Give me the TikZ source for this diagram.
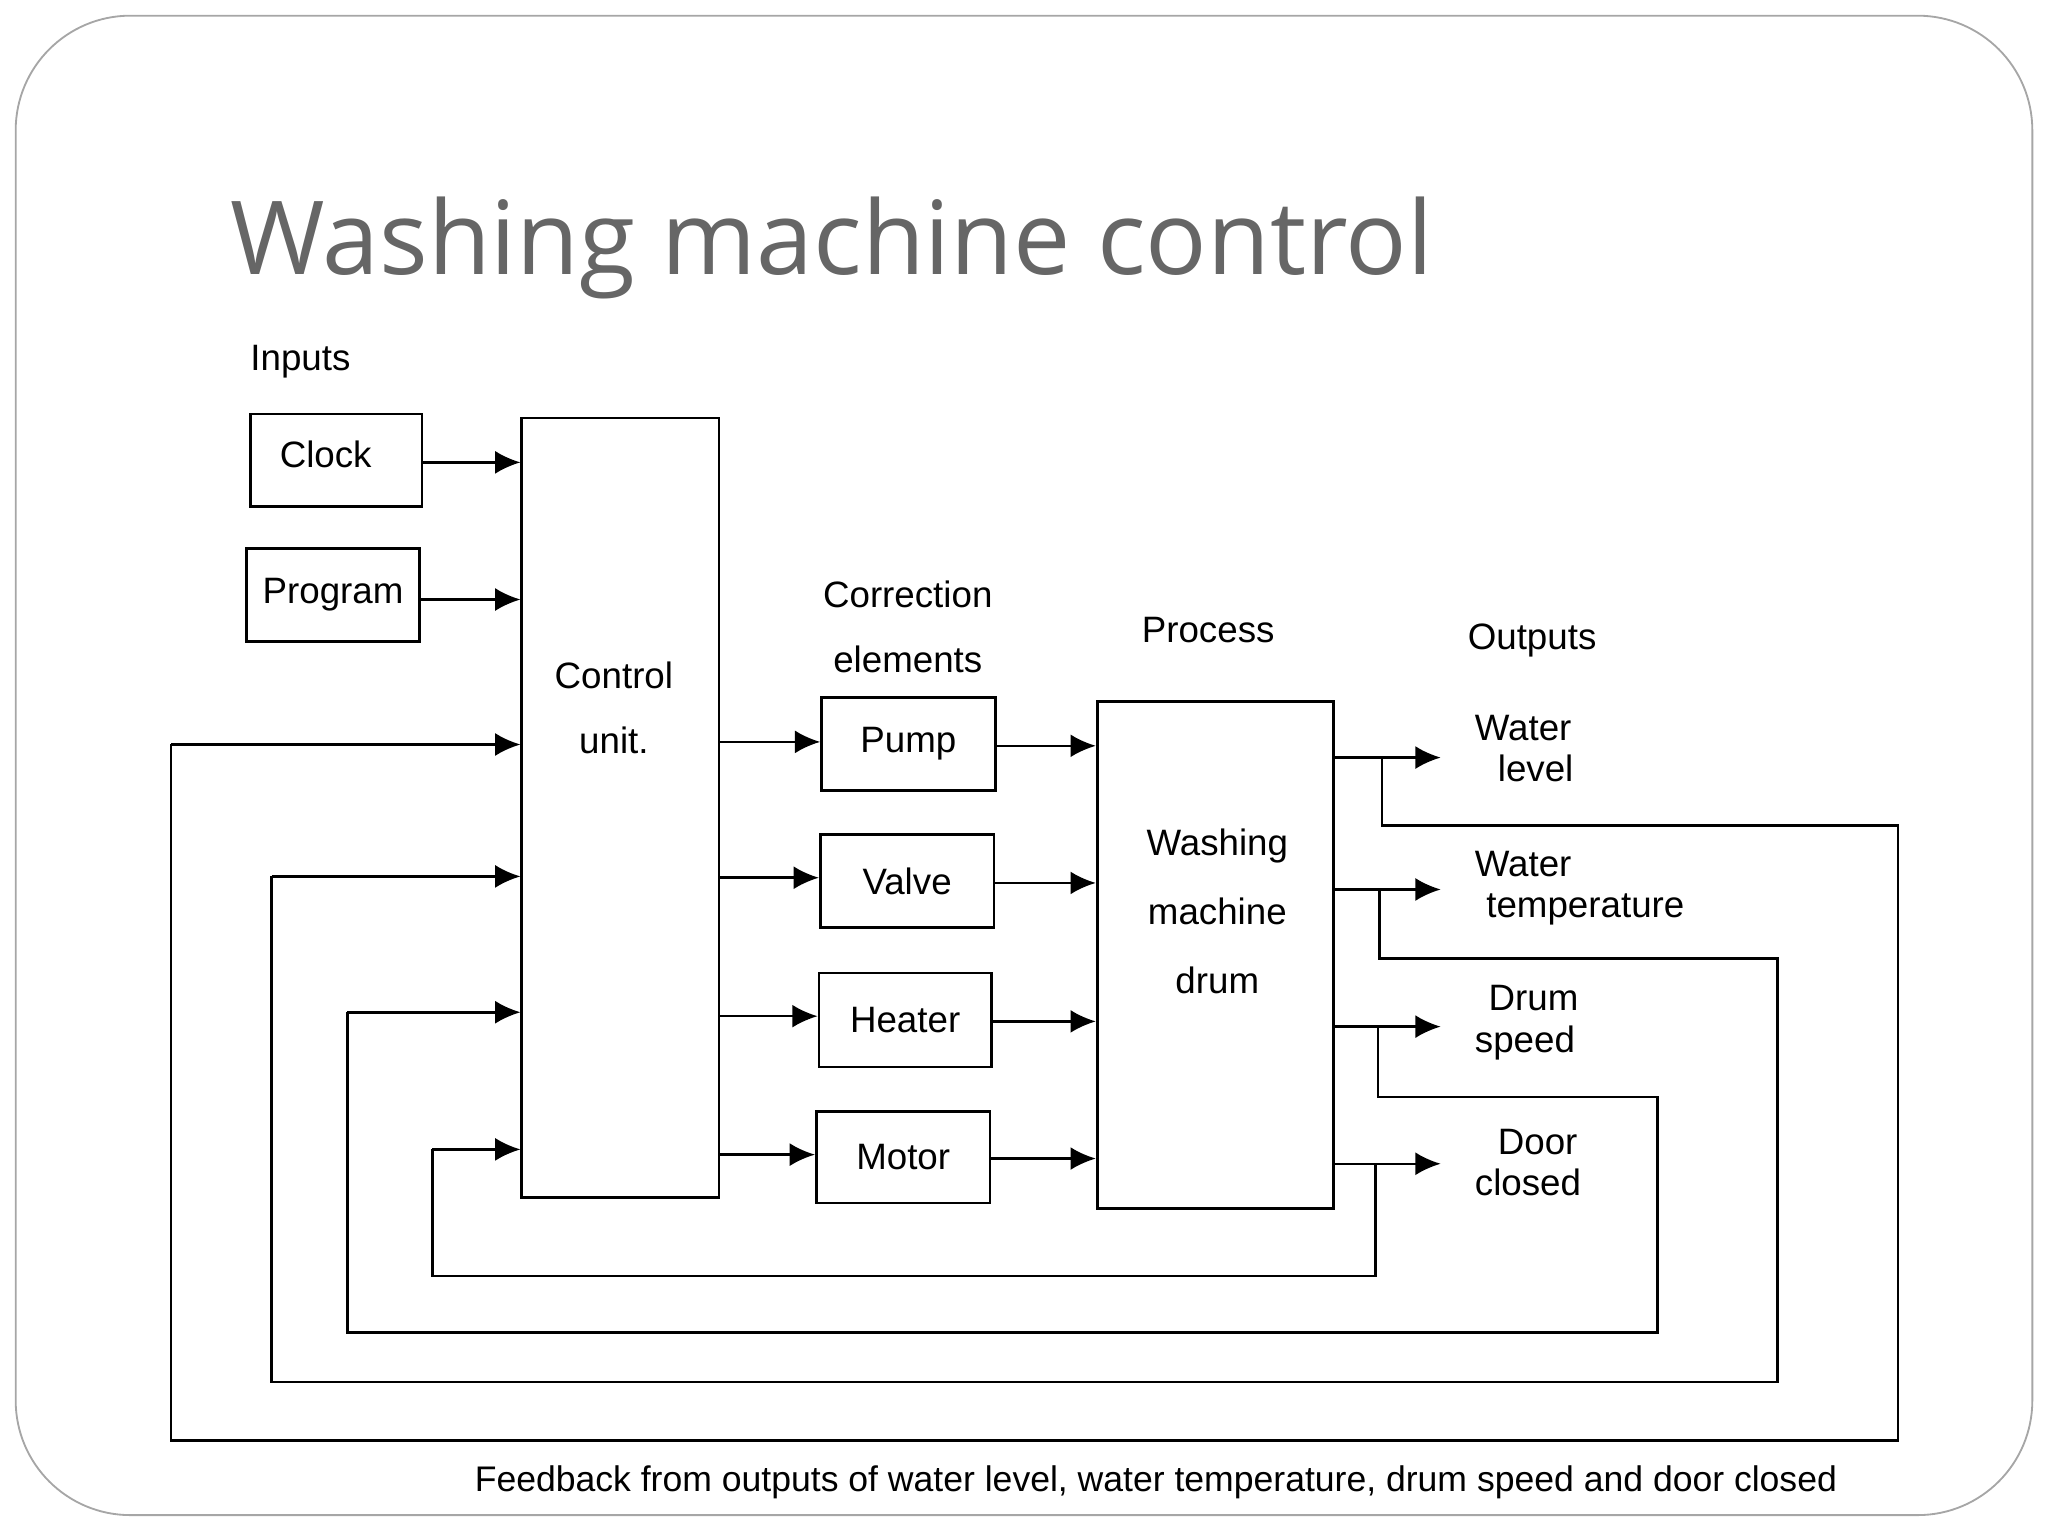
\documentclass[tikz,border=0pt]{standalone}
\usepackage{fontspec}
\setmainfont{Liberation Sans}
\newfontfamily\titlefont{Open Sans}
\usetikzlibrary{arrows.meta}
\begin{document}
\begin{tikzpicture}[x=0.02cm,y=-0.02cm,
  box/.style={draw,line width=1.2pt,inner sep=0pt,font=\fontsize{16}{24}\selectfont},
  lab/.style={font=\fontsize{16}{24}\selectfont,align=center},
  olab/.style={font=\fontsize{16}{18}\selectfont,align=left,anchor=west},
  ln/.style={line width=1.1pt},
  arr/.style={ln,-{Latex[length=11pt,width=10pt]}}]
\useasboundingbox (0,0) rectangle (1568,1176);
\draw[gray!70,line width=0.8pt,rounded corners=50] (12,12) rectangle (1556,1160);
\node[anchor=base west,text=black!60,font=\titlefont\fontsize{44.5}{52}\selectfont] (title) at (170,210) {Washing machine control};
\node[lab] (inputs) at (230,277) {Inputs};
\node[box,minimum width=131*0.02cm,minimum height=71*0.02cm] (clock) at (257.5,352.5) {};
\node[lab,anchor=west] at (208,348) {Clock};
\node[box,minimum width=132*0.02cm,minimum height=71*0.02cm] (program) at (255,455.5) {Program};
\node[box,minimum width=151*0.02cm,minimum height=597*0.02cm] (ctrl) at (475,618.5) {};
\node[lab] at (470,542) {Control\\[4pt]unit.};
\node[lab] (corr) at (695,480) {Correction\\[4pt]elements};
\node[lab] (process) at (925,482) {Process};
\node[lab] (outputs) at (1173,490) {Outputs};
\node[box,minimum width=133*0.02cm,minimum height=71*0.02cm] (pump) at (695.5,569.5) {Pump};
\node[box,minimum width=133*0.02cm,minimum height=71*0.02cm] (valve) at (694.5,674.5) {Valve};
\node[box,minimum width=132*0.02cm,minimum height=72*0.02cm] (heater) at (693,781) {Heater};
\node[box,minimum width=133*0.02cm,minimum height=70*0.02cm] (motor) at (691.5,886) {Motor};
\node[box,minimum width=181*0.02cm,minimum height=388*0.02cm] (drum) at (930.5,731) {};
\node[lab] at (932,698) {Washing\\[6pt]machine\\[6pt]drum};
\draw[arr] (clock.east |- 0,354) -- (ctrl.west |- 0,354);
\draw[arr] (program.east |- 0,459) -- (ctrl.west |- 0,459);
\foreach \b/\y/\z in {pump/568/571, valve/672/676, heater/778/782, motor/884/887}{
  \draw[arr] (ctrl.east |- 0,\y) -- (\b.west |- 0,\y);
  \draw[arr] (\b.east |- 0,\z) -- (drum.west |- 0,\z);
}
\node[olab] (o1) at (1123,573) {Water\\\hspace*{10pt}level};
\node[olab] (o2) at (1123,680) {Water\\\hspace*{5pt}temperature};
\node[olab] (o3) at (1123,783) {\hspace*{6pt}Drum\\speed};
\node[olab] (o4) at (1123,890) {\hspace*{10pt}Door\\closed};
\foreach \o/\y in {o1/580,o2/681,o3/786,o4/891}
  \draw[arr] (drum.east |- 0,\y) -- (1103,\y);
% feedback loops
\coordinate (f1) at (1058,580); \coordinate (g1) at (ctrl.west |- 0,570);
\draw[ln] (f1) -- (1058,632) -- (1453,632) -- (1453,1103) -- (131,1103) -- (131,570);
\draw[arr] (131,570) -- (g1);
\coordinate (f2) at (1056,681); \coordinate (g2) at (ctrl.west |- 0,671);
\draw[ln] (f2) -- (1056,734) -- (1361,734) -- (1361,1058) -- (208,1058) -- (208,671);
\draw[arr] (208,671) -- (g2);
\coordinate (f3) at (1055,786); \coordinate (g3) at (ctrl.west |- 0,775);
\draw[ln] (f3) -- (1055,840) -- (1269,840) -- (1269,1020) -- (266,1020) -- (266,775);
\draw[arr] (266,775) -- (g3);
\coordinate (f4) at (1053,891); \coordinate (g4) at (ctrl.west |- 0,880);
\draw[ln] (f4) -- (1053,977) -- (331,977) -- (331,880);
\draw[arr] (331,880) -- (g4);
\node[lab,font=\fontsize{15.5}{20}\selectfont] (cap) at (885,1135) {Feedback from outputs of water level, water temperature, drum speed and door closed};
\end{tikzpicture}
\end{document}
